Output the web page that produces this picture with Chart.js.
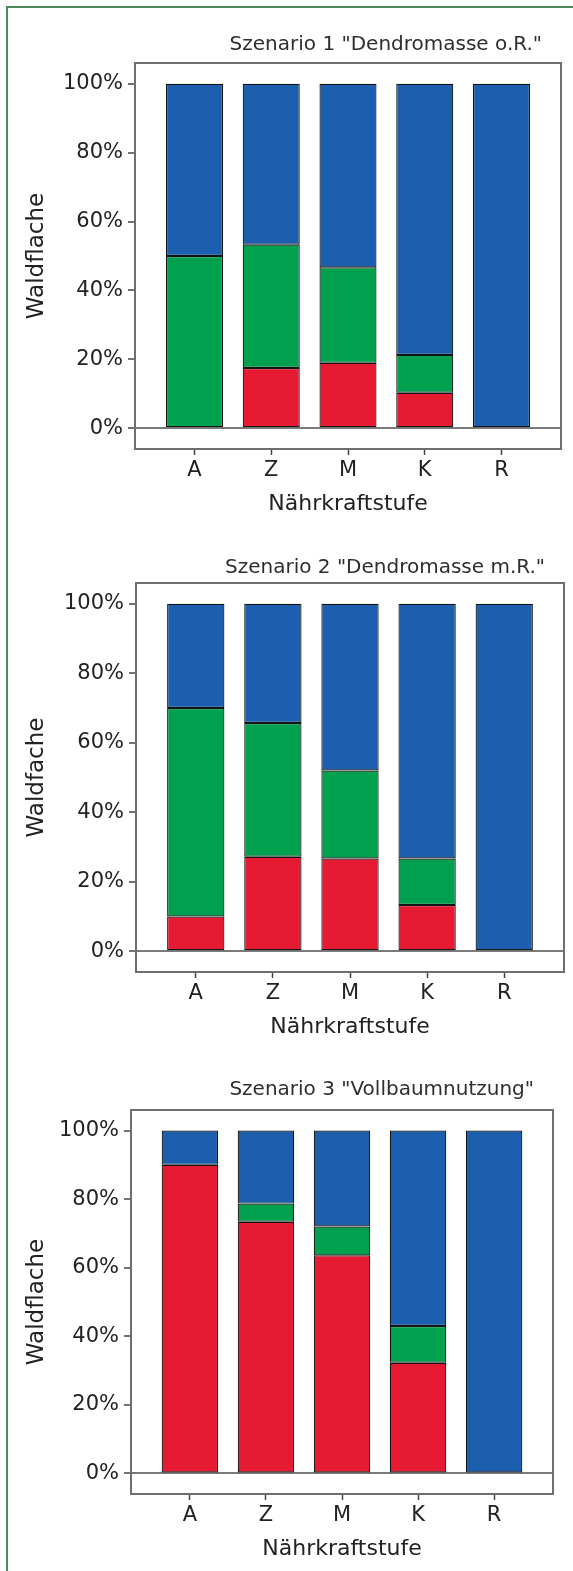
<!DOCTYPE html>
<html>
<head>
<meta charset="utf-8">
<script src="https://cdn.jsdelivr.net/npm/chart.js@4"></script>
<style>
  html, body { margin: 0; padding: 0; background: #fff; }
  body { width: 573px; height: 1571px; position: relative; overflow: hidden; }
  .frame { position: absolute; left: 6px; top: 6px; right: 0; bottom: 0;
           border-left: 2px solid #4a8a5c; border-top: 2px solid #4a8a5c; }
  .panel { position: absolute; left: 0; width: 573px; }
</style>
</head>
<body>
<div class="frame"></div>
<div class="panel" style="top:0px;height:530px"><canvas id="chart1"></canvas></div>
<div class="panel" style="top:530px;height:520px"><canvas id="chart2"></canvas></div>
<div class="panel" style="top:1050px;height:521px"><canvas id="chart3"></canvas></div>
<script>
const categories = ['A', 'Z', 'M', 'K', 'R'];
const yTicks = [0, 20, 40, 60, 80, 100];

// Szenario 1 "Dendromasse o.R."
const s1Red   = [0, 17.5, 19, 10.3, 0];
const s1Green = [50, 35.8, 27.7, 11, 0];
const s1Blue  = [50, 46.7, 53.3, 78.7, 100];

// Szenario 2 "Dendromasse m.R."
const s2Red   = [10, 27.2, 26.7, 13.3, 0];
const s2Green = [60, 38.5, 25.3, 13.4, 0];
const s2Blue  = [30, 34.3, 48, 73.3, 100];

// Szenario 3 "Vollbaumnutzung"
const s3Red   = [90, 73.4, 63.6, 32.3, 0];
const s3Green = [0, 5.3, 8.4, 10.7, 0];
const s3Blue  = [10, 21.3, 28, 57, 100];

const RED = '#e61a33';
const GREEN = '#00a14e';
const BLUE = '#1b5fae';
const TEXT = '#222';

Chart.defaults.font.family = "'DejaVu Sans', sans-serif";
Chart.defaults.color = TEXT;

// Rahmen um die Plotfläche + Titel
const boxPlugin = {
  id: 'plotBox',
  beforeDatasetsDraw(chart) {
    const a = chart.chartArea;
    const ctx = chart.ctx;
    ctx.save();
    ctx.strokeStyle = '#6e6e6e';
    ctx.lineWidth = 2;
    ctx.strokeRect(a.left, a.top, a.right - a.left, a.bottom - a.top);
    ctx.restore();
  },
  afterDraw(chart, args, opts) {
    const a = chart.chartArea;
    const ctx = chart.ctx;
    ctx.save();
    ctx.font = '20px "DejaVu Sans"';
    ctx.fillStyle = '#2e2e2e';
    ctx.textAlign = 'right';
    ctx.textBaseline = 'middle';
    ctx.fillText(opts.text, a.right - 19, a.top - opts.gap);
    ctx.restore();
  }
};

function toPoints(arr) {
  return arr.map((v, i) => ({ x: i, y: v }));
}

function makeChart(id, title, yTitle, red, green, blue, lay) {
  const ds = (data, color) => ({
    data: toPoints(data),
    backgroundColor: color,
    borderColor: '#141414',
    borderWidth: 1.2,
    borderSkipped: false,
    barPercentage: 0.743,
    categoryPercentage: 1
  });
  return new Chart(document.getElementById(id), {
    type: 'bar',
    data: {
      datasets: [ds(red, RED), ds(green, GREEN), ds(blue, BLUE)]
    },
    options: {
      responsive: true,
      maintainAspectRatio: false,
      animation: false,
      layout: { padding: { top: lay.top, bottom: lay.bottom, left: 0, right: lay.right } },
      plugins: {
        legend: { display: false },
        tooltip: { enabled: false },
        plotBox: { text: title, gap: lay.gap }
      },
      scales: {
        x: {
          type: 'linear',
          stacked: true,
          offset: false,
          min: -0.775,
          max: 4.775,
          afterBuildTicks: s => { s.ticks = categories.map((c, i) => ({ value: i })); },
          afterFit: s => { s.height = 70; },
          ticks: {
            callback: v => categories[v],
            font: { size: 21 },
            padding: 3,
            maxRotation: 0,
            autoSkip: false
          },
          grid: { offset: false, drawOnChartArea: false, tickLength: 6, tickColor: '#444', tickWidth: 1.5 },
          border: { display: false },
          title: { display: true, text: 'Nährkraftstufe', font: { size: 22 }, padding: { top: 0, bottom: 2 } }
        },
        y: {
          stacked: true,
          min: -6,
          max: 106,
          afterBuildTicks: s => { s.ticks = yTicks.map(v => ({ value: v })); },
          afterFit: s => { s.width = lay.left; },
          ticks: {
            callback: v => v + '%',
            font: { size: 21 },
            padding: 5
          },
          grid: {
            color: c => (c.tick && c.tick.value === 0 ? '#7a7a7a' : 'rgba(0,0,0,0)'),
            lineWidth: 2,
            tickLength: 7,
            tickColor: '#444',
            tickWidth: 1.5
          },
          border: { display: false },
          title: { display: true, text: yTitle, font: { size: 23 }, padding: { top: 23, bottom: 0 } }
        }
      }
    },
    plugins: [boxPlugin]
  });
}

makeChart('chart1', 'Szenario 1 "Dendromasse o.R."', 'Waldflache',
  s1Red, s1Green, s1Blue, { top: 63, bottom: 11, left: 135, right: 12, gap: 18 });
makeChart('chart2', 'Szenario 2 "Dendromasse m.R."', 'Waldfache',
  s2Red, s2Green, s2Blue, { top: 53, bottom: 8, left: 136, right: 9, gap: 15 });
makeChart('chart3', 'Szenario 3 "Vollbaumnutzung"', 'Waldflache',
  s3Red, s3Green, s3Blue, { top: 60, bottom: 7, left: 131, right: 20, gap: 20 });
</script>
</body>
</html>
